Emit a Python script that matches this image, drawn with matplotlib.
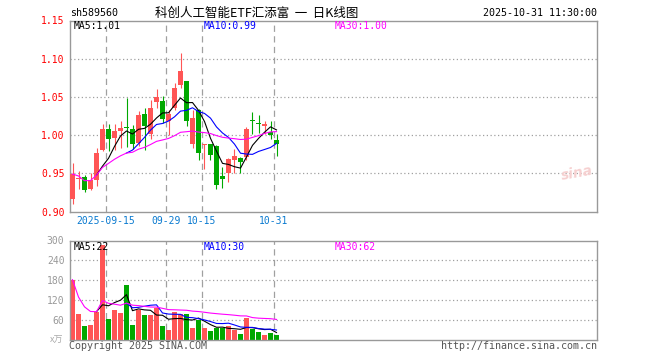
import matplotlib.pyplot as plt
import numpy as np
import pandas as pd

# trading days shown in the chart
dates = ['09-05', '09-08', '09-09', '09-10', '09-11', '09-12',
         '09-15', '09-16', '09-17', '09-18', '09-19',
         '09-22', '09-23', '09-24', '09-25', '09-26',
         '09-29', '09-30', '10-09', '10-10',
         '10-13', '10-14', '10-15', '10-16', '10-17',
         '10-20', '10-21', '10-22', '10-23', '10-24',
         '10-27', '10-28', '10-29', '10-30', '10-31']

opens = [0.917, 0.943, 0.945, 0.929, 0.941, 0.981, 1.008, 0.996, 1.0055, 1.011,
         1.008, 0.990, 1.027, 1.001, 1.043, 1.044, 1.019, 1.036, 1.066, 1.071,
         0.988, 1.033, 0.987, 0.989, 0.986, 0.946, 0.951, 0.967, 0.970, 0.971,
         1.020, 1.015, 1.0125, 1.004, 0.993]
highs = [0.963, 0.953, 0.948, 0.951, 0.983, 1.015, 1.014, 1.015, 1.018, 1.048,
         1.013, 1.032, 1.035, 1.046, 1.060, 1.051, 1.033, 1.068, 1.107, 1.071,
         1.033, 1.034, 0.988, 0.989, 0.987, 0.958, 0.970, 0.982, 0.971, 1.011,
         1.030, 1.026, 1.018, 1.018, 1.001]
lows = [0.910, 0.930, 0.925, 0.928, 0.934, 0.979, 0.979, 0.980, 0.983, 0.984,
        0.982, 0.986, 0.981, 0.995, 1.036, 1.016, 1.000, 1.033, 1.061, 1.012,
        0.983, 0.967, 0.955, 0.967, 0.930, 0.931, 0.938, 0.951, 0.951, 0.968,
        1.001, 1.003, 1.002, 0.995, 0.972]
closes = [0.949, 0.944, 0.928, 0.941, 0.976, 1.008, 0.995, 1.006, 1.009, 1.009,
          0.988, 1.026, 1.012, 1.036, 1.050, 1.021, 1.027, 1.061, 1.084, 1.019,
          1.022, 0.976, 0.988, 0.974, 0.935, 0.942, 0.969, 0.973, 0.965, 1.008,
          1.018, 1.014, 1.0135, 1.0005, 0.988]
# volume in 万
volumes = [182, 77, 41, 44, 83, 286, 62, 89, 80, 167,
           44, 89, 74, 74, 95, 41, 29, 83, 77, 77,
           35, 59, 35, 26, 37, 37, 41, 29, 17, 65,
           34, 25, 16, 22, 15]

tick_dates = ['09-15', '09-29', '10-15', '10-31']
tick_labels = ['2025-09-15', '09-29', '10-15', '10-31']
price_ticks = [0.90, 0.95, 1.00, 1.05, 1.10, 1.15]
vol_ticks = [60, 120, 180, 240, 300]

RED = '#ff5555'
GREEN = '#00a800'
GRID = '#a0a0a0'
MONO = 'DejaVu Sans Mono'
CJK = ['Noto Sans CJK SC', 'DejaVu Sans']

W, H = 660, 360


def box(l, t, r, b):
    # pixel box -> figure fraction
    return [l / W, 1 - b / H, (r - l) / W, (b - t) / H]


def ftext(x, y, s, **kw):
    fig.text(x / W, 1 - y / H, s, **kw)


o = np.array(opens)
c = np.array(closes)
x = np.arange(len(dates))
colors = np.where(c >= o, RED, GREEN)

fig = plt.figure(figsize=(6.6, 3.6), dpi=100)
ax = fig.add_axes(box(70, 20.5, 597, 211.5))
axv = fig.add_axes(box(70, 240.5, 597, 340))

xmin, xmax = -2.5 / 6, (597 - 72.5) / 6
tick_x = [dates.index(d) - 2.5 / 6 for d in tick_dates]

for a in (ax, axv):
    a.set_xlim(xmin, xmax)
    for s in a.spines.values():
        s.set_color('#999999')
        s.set_linewidth(1)
    for tx in tick_x:
        a.axvline(tx, color=GRID, lw=0.9, ls=(0, (5, 3.5)), zorder=0)
    a.tick_params(length=0)

# price panel
ax.set_ylim(0.90, 1.15)
for p in price_ticks[1:-1]:
    ax.axhline(p, color=GRID, lw=0.9, ls=(0, (1, 2)), zorder=0)
ax.set_yticks(price_ticks)
ax.set_yticklabels(['%.2f' % p for p in price_ticks], color='#ff0000',
                   family=MONO, fontsize=7)
ax.tick_params(axis='y', pad=4)
ax.set_xticks(tick_x)
ax.set_xticklabels(tick_labels, color='#0a7ad0', family=MONO, fontsize=7)
ax.tick_params(axis='x', pad=3.5)

ax.vlines(x, lows, highs, colors=colors, lw=0.8, zorder=2)
ax.bar(x, np.maximum(np.abs(c - o), 0.0014), bottom=np.minimum(o, c),
       width=5 / 6, color=colors, linewidth=0, zorder=3)

s = pd.Series(closes)
ax.plot(x, s.rolling(5).mean(), color='black', lw=0.8, zorder=4)
ax.plot(x, s.rolling(10).mean(), color='#0000ff', lw=0.8, zorder=4)
ax.plot(x, s.rolling(30, min_periods=1).mean(), color='#ff00ff', lw=0.8, zorder=4)

# faint logo watermark
ax.text(0.995, 0.2, 'sina', transform=ax.transAxes, ha='right', va='center',
        color='#f6d0d0', fontsize=10, fontweight='bold', style='italic',
        rotation=10, zorder=0)

# volume panel
axv.set_ylim(0, 300)
for v in vol_ticks[:-1]:
    axv.axhline(v, color=GRID, lw=0.9, ls=(0, (1, 2)), zorder=0)
axv.set_yticks(vol_ticks)
axv.set_yticklabels([str(v) for v in vol_ticks], color='#999999',
                    family=MONO, fontsize=7)
axv.tick_params(axis='y', pad=4)
axv.set_xticks([])

axv.bar(x, volumes, width=5 / 6, color=colors, linewidth=0, zorder=2)
sv = pd.Series(volumes)
axv.plot(x, sv.rolling(5).mean(), color='black', lw=0.8, zorder=4)
axv.plot(x, sv.rolling(10).mean(), color='#0000ff', lw=0.8, zorder=4)
axv.plot(x, sv.rolling(30, min_periods=1).mean(), color='#ff00ff', lw=0.8, zorder=4)

# header texts
ftext(70, 13, 'sh589560', family=MONO, fontsize=7.2, va='center')
ftext(257, 13, '科创人工智能ETF汇添富  一  日K线图', family=CJK, fontsize=9,
      ha='center', va='center')
ftext(597, 13, '2025-10-31 11:30:00', family=MONO, fontsize=7.2,
      ha='right', va='center')

ftext(74, 26, 'MA5:1.01', family=MONO, fontsize=7, va='center', color='black')
ftext(204, 26, 'MA10:0.99', family=MONO, fontsize=7, va='center', color='#0000ff')
ftext(335, 26, 'MA30:1.00', family=MONO, fontsize=7, va='center', color='#ff00ff')

ftext(74, 246.5, 'MA5:22', family=MONO, fontsize=7, va='center', color='black')
ftext(204, 246.5, 'MA10:30', family=MONO, fontsize=7, va='center', color='#0000ff')
ftext(335, 246.5, 'MA30:62', family=MONO, fontsize=7, va='center', color='#ff00ff')

ftext(63, 340, 'x万', family=CJK, fontsize=6.5,
      ha='right', va='center', color='#aaaaaa')
ftext(69, 346, 'Copyright 2025 SINA.COM', family=MONO, fontsize=7.2,
      va='center', color='#555555')
ftext(597, 346, 'http://finance.sina.com.cn', family=MONO, fontsize=7.2,
      ha='right', va='center', color='#555555')

fig.savefig('out.png', dpi=100, facecolor='white')
